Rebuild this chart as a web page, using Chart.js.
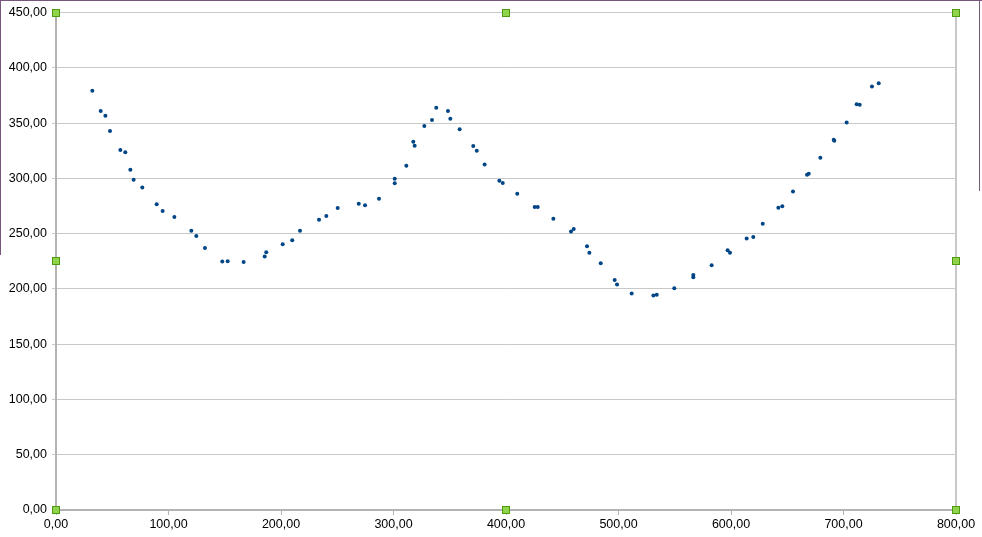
<!DOCTYPE html>
<html lang="es">
<head>
  <meta charset="UTF-8">
  <title>Dispersión</title>
  <script src="https://cdn.jsdelivr.net/npm/chart.js"></script>
  <style>
    html, body {
      margin: 0;
      padding: 0;
      background: white;
      overflow: hidden;
    }

    .marco {
      position: relative;
      width: 982px;
      height: 537px;
    }

    .borde {
      position: absolute;
      background-color: #76567b;
    }
  </style>
</head>
<body>
  <div class="marco">
    <canvas id="grafico" width="982" height="537"></canvas>
    <!-- restos del marco de selección -->
    <div class="borde" style="left:0; top:0; width:982px; height:1px;"></div>
    <div class="borde" style="left:0; top:0; width:1px; height:255px;"></div>
    <div class="borde" style="left:979px; top:0; width:1px; height:191px;"></div>
  </div>

  <script>
    const valoresX = [
      32.3, 39.7, 43.9, 48.0, 57.2, 61.6, 66.1, 69.0, 76.7, 89.5,
      94.8, 105.2, 120.3, 124.7, 132.4, 147.8, 152.6, 166.8, 185.5, 186.9,
      201.5, 210.0, 216.9, 233.8, 240.3, 250.4, 269.1, 274.7, 287.1, 301.1,
      301.1, 311.4, 317.6, 318.8, 327.4, 334.2, 338.0, 348.4, 350.5, 358.8,
      370.9, 374.0, 381.0, 394.1, 397.1, 410.0, 425.5, 428.2, 442.1, 457.8,
      460.2, 472.0, 474.1, 484.2, 496.6, 498.7, 511.7, 531.0, 534.0, 549.6,
      566.5, 566.5, 582.8, 597.0, 599.1, 613.9, 619.8, 628.2, 642.1, 645.6,
      655.1, 667.6, 669.1, 679.4, 691.3, 691.8, 702.8, 711.7, 714.4, 725.3,
      731.3
    ];

    const valoresY = [
      379.2, 361.0, 356.6, 342.8, 325.6, 323.5, 307.8, 298.8, 291.6, 276.5,
      270.5, 265.0, 252.7, 247.9, 237.0, 224.7, 225.0, 224.4, 229.2, 233.1,
      240.4, 244.0, 252.7, 262.6, 265.9, 273.2, 277.1, 275.6, 281.6, 299.7,
      295.5, 311.4, 333.1, 329.5, 347.3, 352.7, 363.9, 360.8, 353.9, 344.3,
      329.2, 325.0, 312.4, 297.9, 295.8, 286.1, 274.1, 274.1, 263.5, 251.8,
      254.2, 238.5, 232.8, 223.2, 208.1, 203.9, 195.8, 194.0, 194.6, 200.6,
      212.6, 210.5, 221.4, 234.9, 232.8, 245.5, 247.0, 259.0, 273.5, 274.7,
      288.0, 303.3, 304.2, 318.7, 334.9, 334.0, 350.6, 366.9, 366.6, 383.1,
      386.1
    ];

    const ejeX = { min: 0, max: 800, paso: 100 };
    const ejeY = { min: 0, max: 450, paso: 50 };

    const puntos = valoresX.map((x, i) => ({ x: x, y: valoresY[i] }));

    function formatoComa(v) {
      return v.toFixed(2).replace('.', ',');
    }

    // borde derecho del área y marcadores verdes de selección
    const decoracion = {
      id: 'decoracion',
      afterDraw(chart) {
        const ctx = chart.ctx;
        const a = chart.chartArea;
        ctx.save();
        ctx.strokeStyle = '#c8c8c8';
        ctx.lineWidth = 2;
        ctx.beginPath();
        ctx.moveTo(a.right, a.top);
        ctx.lineTo(a.right, a.bottom);
        ctx.stroke();

        const medioX = (a.left + a.right) / 2;
        const medioY = (a.top + a.bottom) / 2;
        const marcas = [
          [a.left, a.top], [medioX, a.top], [a.right, a.top],
          [a.left, medioY], [a.right, medioY],
          [a.left, a.bottom], [medioX, a.bottom], [a.right, a.bottom]
        ];
        ctx.fillStyle = '#8fd44a';
        ctx.strokeStyle = '#4e9a10';
        ctx.lineWidth = 1;
        marcas.forEach(([mx, my]) => {
          const px = Math.round(mx) - 3.5;
          const py = Math.round(my) - 3.5;
          ctx.fillRect(px, py, 7, 7);
          ctx.strokeRect(px, py, 7, 7);
        });
        ctx.restore();
      }
    };

    const ctx = document.getElementById('grafico').getContext('2d');

    new Chart(ctx, {
      type: 'scatter',
      data: {
        datasets: [{
          label: 'Valores',
          data: puntos,
          backgroundColor: '#004586',
          borderColor: '#004586',
          pointRadius: 2,
          pointBorderWidth: 0
        }]
      },
      options: {
        responsive: false,
        animation: false,
        layout: { padding: { left: 0, top: 12, right: 26, bottom: 0 } },
        plugins: {
          legend: { display: false },
          tooltip: { enabled: false }
        },
        scales: {
          x: {
            type: 'linear',
            min: ejeX.min,
            max: ejeX.max,
            afterFit(escala) { escala.height = 27; },
            ticks: {
              stepSize: ejeX.paso,
              color: '#000',
              padding: 2,
              font: { family: 'Liberation Sans', size: 12.5 },
              callback: v => formatoComa(v)
            },
            grid: {
              drawOnChartArea: false,
              drawTicks: true,
              tickLength: 5,
              color: '#b3b3b3'
            },
            border: { color: '#b3b3b3', width: 2 }
          },
          y: {
            type: 'linear',
            min: ejeY.min,
            max: ejeY.max,
            afterFit(escala) { escala.width = 56; },
            ticks: {
              stepSize: ejeY.paso,
              color: '#000',
              padding: 5,
              font: { family: 'Liberation Sans', size: 12.5 },
              callback: v => formatoComa(v)
            },
            grid: {
              color: '#c8c8c8',
              lineWidth: 1,
              tickLength: 4
            },
            border: { color: '#b3b3b3', width: 2 }
          }
        }
      },
      plugins: [decoracion]
    });
  </script>
</body>
</html>
